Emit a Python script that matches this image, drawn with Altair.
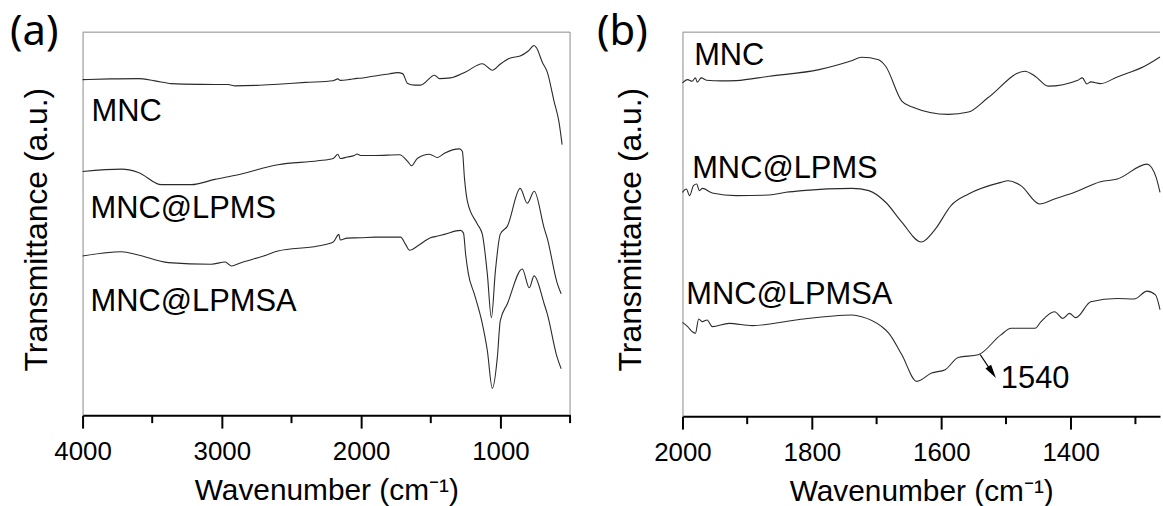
import altair as alt
import pandas as pd

# ---------------- (a) full range, 4000-500 cm-1 ----------------
a_mnc_wn = [4000, 3800, 3600, 3480, 3363, 3150, 2955, 2905, 2750, 2597, 2400, 2200, 2167, 2150,
            2080, 2030, 2003, 1900, 1800, 1738, 1702, 1666, 1616, 1573, 1473, 1437, 1359, 1250,
            1130, 1058, 1000, 929, 858, 800, 758, 740, 700, 664, 614, 580, 557]
a_mnc_t = [337.3, 338, 338.3, 336, 333.3, 332.5, 332.3, 331, 331.5, 332.7, 334.5, 336.2, 338, 336.5,
           337.5, 338.5, 338.7, 341, 343, 344.3, 343.3, 333.3, 331.7, 331.7, 341.7, 338.3, 339, 345,
           353.3, 346.7, 353, 359, 361, 366, 371.5, 369, 355, 345, 315, 295, 272]

a_lpms_wn = [4000, 3720, 3600, 3434, 3220, 3050, 2883, 2597, 2311, 2200, 2167, 2150, 2100, 2050,
             2030, 2003, 1900, 1724, 1666, 1638, 1595, 1509, 1452, 1402, 1294, 1273, 1258, 1237,
             1165, 1130, 1094, 1065, 1036, 1001, 950, 858, 807, 757, 686, 664, 593, 564]
a_lpms_t = [245, 247.3, 244, 231.7, 231.7, 237, 241.7, 251.7, 255.7, 258, 262.3, 258, 259.5, 261,
            262.5, 261, 261, 261.7, 255, 250.7, 258.3, 262.3, 259, 263.3, 267.7, 265, 238, 215,
            192, 182, 142, 98, 145, 182, 190, 228, 213, 225, 188, 178, 133, 122]

a_lpmsa_wn = [4000, 3720, 3600, 3384, 3076, 2976, 2933, 2862, 2700, 2597, 2311, 2200, 2160, 2150,
              2100, 2003, 1900, 1717, 1681, 1652, 1595, 1502, 1450, 1402, 1287, 1265, 1250, 1230,
              1187, 1130, 1094, 1058, 1022, 1001, 950, 843, 793, 758, 686, 664, 593, 564]
a_lpmsa_t = [160, 164.3, 161, 153.3, 151.7, 154, 150, 153.3, 160, 165, 170, 174, 181.7, 176,
             178, 178.3, 179, 179, 171.7, 165.7, 170, 178.3, 180, 181.7, 185.7, 183, 162, 142,
             121.7, 92, 65, 27, 58.3, 95, 112, 147, 128, 140, 112, 102, 58.3, 46.7]

a_major = [4000, 3000, 2000, 1000]
a_minor = [3500, 2500, 1500, 500]

# ---------------- (b) amide region, 2000-1262 cm-1 ----------------
b_mnc_wn = [2000, 1992, 1985, 1980, 1977, 1971, 1963, 1940, 1917, 1866, 1789, 1740, 1723, 1697,
            1686, 1661, 1646, 1589, 1558, 1528, 1471, 1455, 1435, 1389, 1382, 1375, 1369, 1354,
            1328, 1286, 1262]
b_mnc_t = [335, 338.3, 336.7, 340, 335.7, 340, 337.7, 337, 337.3, 341.7, 348.3, 357, 360.7, 358.3,
           351.7, 316.7, 311, 303.3, 305.7, 320, 346.7, 341.7, 331.7, 337.7, 340, 334, 336, 334.3,
           341, 351.7, 361]

b_lpms_wn = [2000, 1994, 1989, 1983, 1978, 1974, 1969, 1954, 1917, 1866, 1840, 1815, 1738, 1712,
             1686, 1661, 1631, 1609, 1585, 1558, 1508, 1497, 1477, 1448, 1425, 1394, 1354, 1328,
             1282, 1275, 1268, 1262]
b_lpms_t = [225, 228.3, 221.7, 231.7, 233.3, 226.7, 229, 224.3, 221.7, 222.3, 225, 226.7, 229, 226.7,
            215, 195, 175, 188.3, 211.7, 223.3, 235, 236.7, 231.7, 213.3, 218.3, 225, 235.7, 238.3,
            253.3, 250, 240, 225]

b_lpmsa_wn = [2000, 1992, 1985, 1980, 1975, 1969, 1962, 1954, 1928, 1892, 1825, 1738, 1723, 1692,
              1681, 1661, 1638, 1615, 1594, 1574, 1543, 1508, 1492, 1455, 1446, 1425, 1412, 1402,
              1392, 1369, 1328, 1302, 1282, 1269, 1262]
b_lpmsa_t = [94.3, 90, 85, 83.3, 97.7, 95, 96.7, 90, 93.3, 91, 96.7, 101.7, 100, 90,
             83.3, 61.7, 35, 43.3, 46.7, 59, 61.7, 81.7, 88.3, 88.3, 95, 105, 98.3, 103.3,
             99, 115, 118.3, 117.7, 125.7, 122, 107]

b_major = [2000, 1800, 1600, 1400]
b_minor = [1900, 1700, 1500, 1300]

# series labels: name, wavenumber at left edge of text, baseline level
a_labels = [("MNC", 3936, 296), ("MNC@LPMS", 3943, 198), ("MNC@LPMSA", 3943, 105)]
b_labels = [("MNC", 1982, 353), ("MNC@LPMS", 1985, 239), ("MNC@LPMSA", 1994, 113)]

# marked band in (b): arrow from the curve at 1540 cm-1, value text beside it
band_wn = 1540
band_t = 62
arrow_end_wn, arrow_end_t = 1521.5, 44
band_text_wn, band_text_t = 1508, 28

FONT = "Liberation Sans"
LINE = "#2a2a2a"
FRAME = "#8a8a8a"


def long_table(parts):
    rows = []
    for name, wn, t in parts:
        rows += [{"series": name, "wn": w, "t": v, "i": i}
                 for i, (w, v) in enumerate(zip(wn, t))]
    return pd.DataFrame(rows)


def panel(tag, spectra, labels, major, minor, xdom, ydom, w, h, ypad, extra=None):
    xs = alt.Scale(domain=xdom, nice=False, zero=False)
    ys = alt.Scale(domain=ydom, nice=False, zero=False)

    xaxis = alt.Axis(values=major, format="d", title="Wavenumber (cm⁻¹)", grid=False,
                     labelFlush=False, labelFont=FONT, labelFontSize=26, labelColor="black",
                     labelPadding=11, tickSize=13, tickWidth=2, tickColor="black",
                     domainWidth=2, domainColor="black", titleFont=FONT, titleFontSize=30,
                     titleFontWeight="normal", titleColor="black", titlePadding=11)
    yaxis = alt.Axis(labels=False, ticks=False, grid=False, domainColor=FRAME, domainWidth=1,
                     title="Transmittance (a.u.)", titleFont=FONT, titleFontSize=32,
                     titleFontWeight="normal", titleColor="black", titlePadding=ypad, titleY=198)

    def X(field):
        return alt.X(field, scale=xs, axis=xaxis)

    def Y(field):
        return alt.Y(field, scale=ys, axis=yaxis)

    one = pd.DataFrame({"k": [0]})
    frame = [
        alt.Chart(one).mark_rule(color=FRAME, strokeWidth=1).encode(
            x=alt.value(0), x2=alt.value(w), y=alt.value(0)),
    ]
    if tag == "(a)":
        frame.append(alt.Chart(one).mark_rule(color=FRAME, strokeWidth=1).encode(
            x=alt.value(w), y=alt.value(0), y2=alt.value(h)))

    lines = alt.Chart(long_table(spectra)).mark_line(
        color=LINE, strokeWidth=1.1, interpolate="monotone").encode(
        x=X("wn:Q"), y=Y("t:Q"), detail="series:N", order="i:Q")

    minor_ticks = alt.Chart(pd.DataFrame({"wn": minor})).mark_rule(
        color="black", strokeWidth=2).encode(
        x=X("wn:Q"), y=alt.value(h), y2=alt.value(h + 8))

    lab = alt.Chart(pd.DataFrame(labels, columns=["name", "wn", "t"])).mark_text(
        align="left", baseline="alphabetic", font=FONT, fontSize=31, color="black").encode(
        x=X("wn:Q"), y=Y("t:Q"), text="name:N")

    tag_txt = alt.Chart(one).mark_text(
        text=tag, align="left", baseline="top", font="Noto Sans", fontSize=42,
        color="black").encode(x=alt.value(-73 if tag == "(a)" else -86), y=alt.value(-20))

    layers = frame + [lines, minor_ticks, lab, tag_txt]
    if extra is not None:
        layers += extra(X, Y)
    return alt.layer(*layers).properties(width=w, height=h)


def band_marker(X, Y):
    seg = alt.Chart(pd.DataFrame({"wn": [band_wn], "t": [band_t],
                                  "wn2": [arrow_end_wn], "t2": [arrow_end_t]})).mark_rule(
        color="black", strokeWidth=1.2).encode(
        x=X("wn:Q"), y=Y("t:Q"), x2="wn2:Q", y2="t2:Q")
    head = alt.Chart(pd.DataFrame({"wn": [arrow_end_wn], "t": [arrow_end_t]})).mark_point(
        shape="M0,-1L0.5,1L-0.5,1Z", filled=True, color="black", opacity=1,
        size=190, angle=146).encode(x=X("wn:Q"), y=Y("t:Q"))
    txt = alt.Chart(pd.DataFrame({"wn": [band_text_wn], "t": [band_text_t],
                                  "s": [str(band_wn)]})).mark_text(
        align="left", baseline="alphabetic", font=FONT, fontSize=31, color="black").encode(
        x=X("wn:Q"), y=Y("t:Q"), text="s:N")
    return [seg, head, txt]


left = panel("(a)",
             [("MNC", a_mnc_wn, a_mnc_t), ("MNC@LPMS", a_lpms_wn, a_lpms_t),
              ("MNC@LPMSA", a_lpmsa_wn, a_lpmsa_t)],
             a_labels, a_major, a_minor, [4000, 500], [0, 385], 490, 385, 29)

right = panel("(b)",
              [("MNC", b_mnc_wn, b_mnc_t), ("MNC@LPMS", b_lpms_wn, b_lpms_t),
               ("MNC@LPMSA", b_lpmsa_wn, b_lpmsa_t)],
              b_labels, b_major, b_minor, [2000, 1262], [0, 386], 480, 386, 35,
              extra=band_marker)

chart = alt.hconcat(left, right, spacing=26).resolve_scale(
    x="independent", y="independent").properties(
    padding={"left": 10, "top": 10, "right": 0, "bottom": 0},
    background="white",
).configure_view(stroke=None)

chart.save("out.html", embed_options={"renderer": "svg", "actions": False})
